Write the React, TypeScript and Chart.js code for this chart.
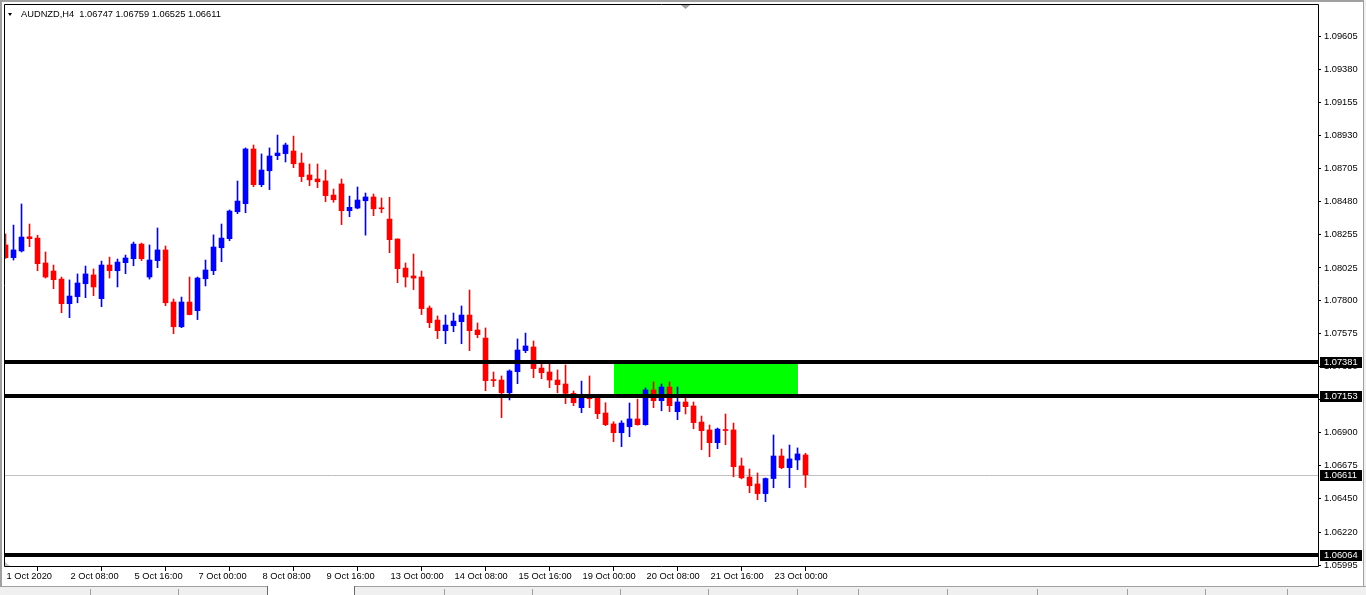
import React, { useEffect, useRef } from "react";
import { Chart, registerables } from "chart.js";

Chart.register(...registerables);

// ---- Data (AUDNZD, H4) ----
const opens = [
  1.08182, 1.08095, 1.08141, 1.08238, 1.08229, 1.08059, 1.08004, 1.07949, 1.07781, 1.07829,
  1.07917, 1.07977, 1.07815, 1.08045, 1.08006, 1.08061, 1.08088, 1.08188, 1.07963, 1.08075,
  1.08148, 1.07792, 1.07623, 1.07792, 1.07733, 1.07951, 1.08006, 1.08163, 1.08225, 1.08409,
  1.08464, 1.08838, 1.08594, 1.08689, 1.08792, 1.08806, 1.08824, 1.08742, 1.0866, 1.08633,
  1.0862, 1.08523, 1.08599, 1.08416, 1.08434, 1.08484, 1.0851, 1.08434, 1.08359, 1.08223,
  1.08024, 1.0797, 1.07963, 1.07751, 1.07669, 1.07596, 1.0763, 1.07658, 1.07703, 1.07601,
  1.07546, 1.07257, 1.07259, 1.07172, 1.07316, 1.0746, 1.07485, 1.07341, 1.07314, 1.07259,
  1.07232, 1.07168, 1.0707, 1.07145, 1.07143, 1.07034, 1.06959, 1.06899, 1.0694, 1.06993,
  1.06954, 1.07191, 1.07118, 1.07211, 1.07043, 1.07109, 1.07082, 1.06972, 1.06918, 1.06831,
  1.06916, 1.06918, 1.06672, 1.06596, 1.06549, 1.06483, 1.06586, 1.0674, 1.0666, 1.06713,
  1.06747,
];
const highs = [
  1.08257, 1.08318, 1.08462, 1.08325, 1.08248, 1.08134, 1.08045, 1.07963, 1.07943, 1.07984,
  1.08038, 1.08018, 1.08072, 1.08099, 1.08086, 1.08113, 1.08202, 1.08195, 1.08182, 1.08298,
  1.08175, 1.07813, 1.07826, 1.07963, 1.07963, 1.08079, 1.08251, 1.08325, 1.08421, 1.08619,
  1.08845, 1.08865, 1.08804, 1.08845, 1.08933, 1.08878, 1.08926, 1.0881, 1.08735, 1.08735,
  1.08694, 1.08564, 1.08633, 1.08516, 1.08578, 1.08537, 1.0853, 1.08503, 1.08508, 1.08223,
  1.08059, 1.0812, 1.08004, 1.07765, 1.07697, 1.07703, 1.07717, 1.07765, 1.07874, 1.07649,
  1.07615, 1.07314, 1.07287, 1.07328, 1.0754, 1.0758, 1.07526, 1.07369, 1.07369, 1.07328,
  1.07362, 1.07184, 1.07252, 1.07287, 1.07157, 1.07104, 1.06974, 1.06981, 1.07102, 1.07129,
  1.07205, 1.07246, 1.07232, 1.07246, 1.07211, 1.07143, 1.07109, 1.07013, 1.06952, 1.06931,
  1.07027, 1.06965, 1.06726, 1.06651, 1.06624, 1.0659, 1.06884, 1.06788, 1.06815, 1.06795,
  1.06759,
];
const lows = [
  1.0809, 1.08079, 1.08134, 1.0817, 1.08006, 1.07956, 1.07883, 1.07719, 1.07685, 1.07787,
  1.07822, 1.07835, 1.0776, 1.07956, 1.07895, 1.07986, 1.0804, 1.08075, 1.07949, 1.08027,
  1.07767, 1.07576, 1.07617, 1.07704, 1.07672, 1.07902, 1.07979, 1.08068, 1.08211, 1.08396,
  1.08402, 1.0858, 1.0858, 1.0856, 1.08765, 1.08749, 1.0871, 1.08615, 1.08587, 1.08573,
  1.08478, 1.08474, 1.08321, 1.08375, 1.08429, 1.08249, 1.08382, 1.08402, 1.08129, 1.07924,
  1.07895, 1.07877, 1.07706, 1.07617, 1.07542, 1.07507, 1.07589, 1.07507, 1.0746, 1.07548,
  1.07186, 1.07214, 1.07002, 1.07123, 1.07234, 1.07446, 1.07275, 1.07268, 1.07207, 1.07172,
  1.07097, 1.07084, 1.07036, 1.0707, 1.06995, 1.06947, 1.06838, 1.06804, 1.06872, 1.0695,
  1.0695, 1.0707, 1.07049, 1.07043, 1.06988, 1.07027, 1.06926, 1.06783, 1.06735, 1.0679,
  1.06817, 1.06598, 1.06584, 1.06489, 1.06441, 1.06428, 1.06523, 1.06653, 1.06523, 1.06647,
  1.06525,
];
const closes = [
  1.08095, 1.08148, 1.08236, 1.08225, 1.08054, 1.07963, 1.07945, 1.07781, 1.07833, 1.07922,
  1.07984, 1.07895, 1.08045, 1.08006, 1.08065, 1.08093, 1.08188, 1.08088, 1.08079, 1.08148,
  1.07787, 1.07623, 1.07792, 1.07706, 1.07956, 1.08011, 1.08168, 1.08229, 1.08414, 1.08482,
  1.08838, 1.08594, 1.08694, 1.0879, 1.0881, 1.08865, 1.08737, 1.08649, 1.08627, 1.08614,
  1.08519, 1.08491, 1.08416, 1.08439, 1.08489, 1.0851, 1.08429, 1.08429, 1.08218, 1.0802,
  1.07963, 1.07956, 1.07747, 1.07651, 1.07596, 1.07635, 1.07662, 1.07703, 1.07596, 1.07569,
  1.07255, 1.07255, 1.07172, 1.07321, 1.07464, 1.07492, 1.07337, 1.07309, 1.07259, 1.07227,
  1.07168, 1.07104, 1.07145, 1.07131, 1.07029, 1.06954, 1.06899, 1.06965, 1.06993, 1.06954,
  1.07191, 1.07118, 1.07211, 1.07084, 1.07109, 1.07077, 1.06968, 1.06913, 1.06831, 1.06924,
  1.06914, 1.06667, 1.06591, 1.06537, 1.06483, 1.06586, 1.0674, 1.0666, 1.0672, 1.06754,
  1.06611,
];

const xTickIndex = [0, 8, 16, 24, 32, 40, 48, 56, 64, 72, 80, 88, 96];
const xTickLabels = [
  "1 Oct 2020", "2 Oct 08:00", "5 Oct 16:00", "7 Oct 00:00", "8 Oct 08:00", "9 Oct 16:00",
  "13 Oct 00:00", "14 Oct 08:00", "15 Oct 16:00", "19 Oct 00:00", "20 Oct 08:00",
  "21 Oct 16:00", "23 Oct 00:00",
];
const yTickValues = [
  1.09605, 1.0938, 1.09155, 1.0893, 1.08705, 1.0848, 1.08255, 1.08025, 1.078, 1.07575,
  1.0735, 1.07125, 1.069, 1.06675, 1.0645, 1.0622, 1.05995,
];
const levelLines = [1.07381, 1.07153, 1.06064];
const bidPrice = 1.06611;
const zoneTop = 1.07381;
const zoneBottom = 1.07153;
const zoneStartIndex = 76;
const zoneEndIndex = 99;
const titleText = "AUDNZD,H4  1.06747 1.06759 1.06525 1.06611";

const FONT = '"Liberation Sans", Arial, sans-serif';
const FONT_SIZE = 9.3;
const BULL = "#0000FF";
const BEAR = "#FF0000";

const overlayPlugin = {
  id: "mtOverlay",
  beforeDatasetsDraw(chart: any) {
    const { ctx, chartArea: a, scales } = chart;
    const x = scales.x;
    const y = scales.y;
    ctx.save();
    ctx.beginPath();
    ctx.rect(a.left, a.top, a.right - a.left, a.bottom - a.top);
    ctx.clip();
    const x1 = Math.round(x.getPixelForValue(zoneStartIndex));
    const x2 = Math.round(x.getPixelForValue(zoneEndIndex));
    const y1 = Math.round(y.getPixelForValue(zoneTop));
    const y2 = Math.round(y.getPixelForValue(zoneBottom));
    ctx.fillStyle = "#00FF00";
    ctx.fillRect(x1, y1, x2 - x1, y2 - y1);
    // bid line
    const by = Math.round(y.getPixelForValue(bidPrice)) + 0.5;
    ctx.strokeStyle = "#C0C0C0";
    ctx.lineWidth = 1;
    ctx.beginPath();
    ctx.moveTo(a.left, by);
    ctx.lineTo(a.right, by);
    ctx.stroke();
    ctx.restore();
  },
  afterDatasetsDraw(chart: any) {
    const { ctx, chartArea: a, scales } = chart;
    const y = scales.y;
    ctx.save();
    ctx.strokeStyle = "#000";
    ctx.lineWidth = 4;
    for (const p of levelLines) {
      const yy = Math.round(y.getPixelForValue(p));
      ctx.beginPath();
      ctx.moveTo(a.left, yy);
      ctx.lineTo(a.right, yy);
      ctx.stroke();
    }
    ctx.restore();
  },
  afterDraw(chart: any) {
    const { ctx, chartArea: a, scales } = chart;
    const y = scales.y;
    ctx.save();
    // frame
    ctx.strokeStyle = "#000";
    ctx.lineWidth = 1;
    ctx.beginPath();
    ctx.moveTo(a.left + 0.5, a.top + 0.5);
    ctx.lineTo(a.right + 0.5, a.top + 0.5);
    ctx.lineTo(a.right + 0.5, a.bottom - 0.5);
    ctx.lineTo(a.left + 0.5, a.bottom - 0.5);
    ctx.closePath();
    ctx.stroke();
    // price label boxes
    ctx.font = `${FONT_SIZE}px ${FONT}`;
    ctx.textBaseline = "middle";
    ctx.textAlign = "left";
    for (const p of [...levelLines, bidPrice]) {
      const yy = Math.round(y.getPixelForValue(p));
      ctx.fillStyle = "#000";
      ctx.fillRect(a.right + 2, yy - 5, 42, 11);
      ctx.fillStyle = "#FFF";
      ctx.fillText(p.toFixed(5), a.right + 6, yy + 0.5);
    }
    // small shift markers
    ctx.fillStyle = "#A0A0A0";
    ctx.beginPath();
    ctx.moveTo(681, a.top + 1);
    ctx.lineTo(690, a.top + 1);
    ctx.lineTo(685.5, a.top + 5);
    ctx.closePath();
    ctx.fill();
    ctx.fillStyle = "#C8C8C8";
    ctx.beginPath();
    ctx.moveTo(a.left + 1, a.bottom - 5);
    ctx.lineTo(a.left + 1, a.bottom - 1);
    ctx.lineTo(a.left + 6, a.bottom - 1);
    ctx.closePath();
    ctx.fill();
    ctx.restore();
  },
};

export default function App() {
  const canvasRef = useRef<HTMLCanvasElement | null>(null);

  useEffect(() => {
    if (!canvasRef.current) return;
    const colors = opens.map((o, i) => (closes[i] >= o ? BULL : BEAR));
    const wickData = highs.map((h, i) => ({ x: i, y: [lows[i], h] }));
    const bodyData = opens.map((o, i) => ({ x: i, y: [o, closes[i]] }));

    const chart = new Chart(canvasRef.current, {
      type: "bar",
      data: {
        datasets: [
          {
            data: wickData as any,
            backgroundColor: colors,
            borderWidth: 0,
            barThickness: 1,
            grouped: false,
            minBarLength: 1,
          } as any,
          {
            data: bodyData as any,
            backgroundColor: colors,
            borderWidth: 0,
            barThickness: 5,
            grouped: false,
            minBarLength: 1,
          } as any,
        ],
      },
      options: {
        animation: false,
        responsive: false,
        events: [],
        layout: { padding: { left: 4, top: 4, right: 0, bottom: 0 } },
        plugins: {
          legend: { display: false },
          tooltip: { enabled: false },
          title: { display: false },
        },
        scales: {
          x: {
            type: "linear",
            position: "bottom",
            min: -0.1875,
            max: 164.0625,
            bounds: "data",
            offset: false,
            afterBuildTicks: (scale: any) => {
              scale.ticks = xTickIndex.map((v) => ({ value: v }));
            },
            afterFit: (scale: any) => {
              scale.height = 19;
              scale.paddingLeft = 0;
              scale.paddingRight = 0;
            },
            ticks: {
              autoSkip: false,
              maxRotation: 0,
              minRotation: 0,
              align: "start",
              labelOffset: 1,
              padding: 0,
              color: "#000",
              font: { family: FONT, size: FONT_SIZE },
              callback: (_v: any, index: number) => xTickLabels[index] ?? "",
            },
            grid: {
              display: true,
              drawOnChartArea: false,
              drawTicks: true,
              tickLength: 4,
              color: "#000",
              lineWidth: 1,
            },
            border: { display: false },
          } as any,
          y: {
            type: "linear",
            position: "right",
            min: 1.059815,
            max: 1.098285,
            bounds: "data",
            afterBuildTicks: (scale: any) => {
              scale.ticks = yTickValues.map((v) => ({ value: v }));
            },
            afterFit: (scale: any) => {
              scale.width = 48;
              scale.paddingTop = 0;
              scale.paddingBottom = 0;
            },
            ticks: {
              autoSkip: false,
              padding: 3,
              color: "#000",
              font: { family: FONT, size: FONT_SIZE },
              callback: (v: any) => Number(v).toFixed(5),
            },
            grid: {
              display: true,
              drawOnChartArea: false,
              drawTicks: true,
              tickLength: 3,
              color: "#000",
              lineWidth: 1,
            },
            border: { display: false },
          } as any,
        },
      },
      plugins: [overlayPlugin],
    });
    return () => chart.destroy();
  }, []);

  const tabDividers = [90, 178, 444, 532, 620, 708, 797, 858, 947, 1037, 1127, 1205, 1287];

  return (
    <div
      style={{
        position: "fixed",
        left: 0,
        top: 0,
        width: 1366,
        height: 595,
        background: "#FFFFFF",
        overflow: "hidden",
      }}
    >
      <canvas
        ref={canvasRef}
        width={1366}
        height={586}
        style={{ position: "absolute", left: 0, top: 0, width: 1366, height: 586 }}
      />
      {/* outer window borders */}
      <div style={{ position: "absolute", left: 0, top: 0, width: 1366, height: 2, background: "#A0A0A0" }} />
      <div style={{ position: "absolute", left: 0, top: 0, width: 2, height: 586, background: "#A0A0A0" }} />
      <div style={{ position: "absolute", left: 1363, top: 0, width: 1, height: 586, background: "#A0A0A0" }} />
      <div style={{ position: "absolute", left: 1364, top: 0, width: 2, height: 586, background: "#F0F0F0" }} />
      {/* title */}
      <div
        style={{
          position: "absolute",
          left: 8,
          top: 12.5,
          width: 0,
          height: 0,
          borderLeft: "2.5px solid transparent",
          borderRight: "2.5px solid transparent",
          borderTop: "3px solid #000",
        }}
      />
      <div
        style={{
          position: "absolute",
          left: 21,
          top: 8.6,
          fontFamily: FONT,
          fontSize: FONT_SIZE,
          lineHeight: "11px",
          color: "#000",
          whiteSpace: "pre",
        }}
      >
        {titleText}
      </div>
      {/* bottom tab bar */}
      <div
        style={{
          position: "absolute",
          left: 0,
          top: 586,
          width: 1366,
          height: 9,
          background: "#F0F0F0",
          borderTop: "1px solid #A0A0A0",
          boxSizing: "border-box",
        }}
      />
      {tabDividers.map((x) => (
        <div
          key={x}
          style={{ position: "absolute", left: x, top: 589, width: 1, height: 6, background: "#A0A0A0" }}
        />
      ))}
      <div
        style={{
          position: "absolute",
          left: 267,
          top: 586,
          width: 88,
          height: 9,
          background: "#FFFFFF",
          borderLeft: "1px solid #696969",
          borderRight: "1px solid #696969",
          boxSizing: "border-box",
        }}
      />
    </div>
  );
}
